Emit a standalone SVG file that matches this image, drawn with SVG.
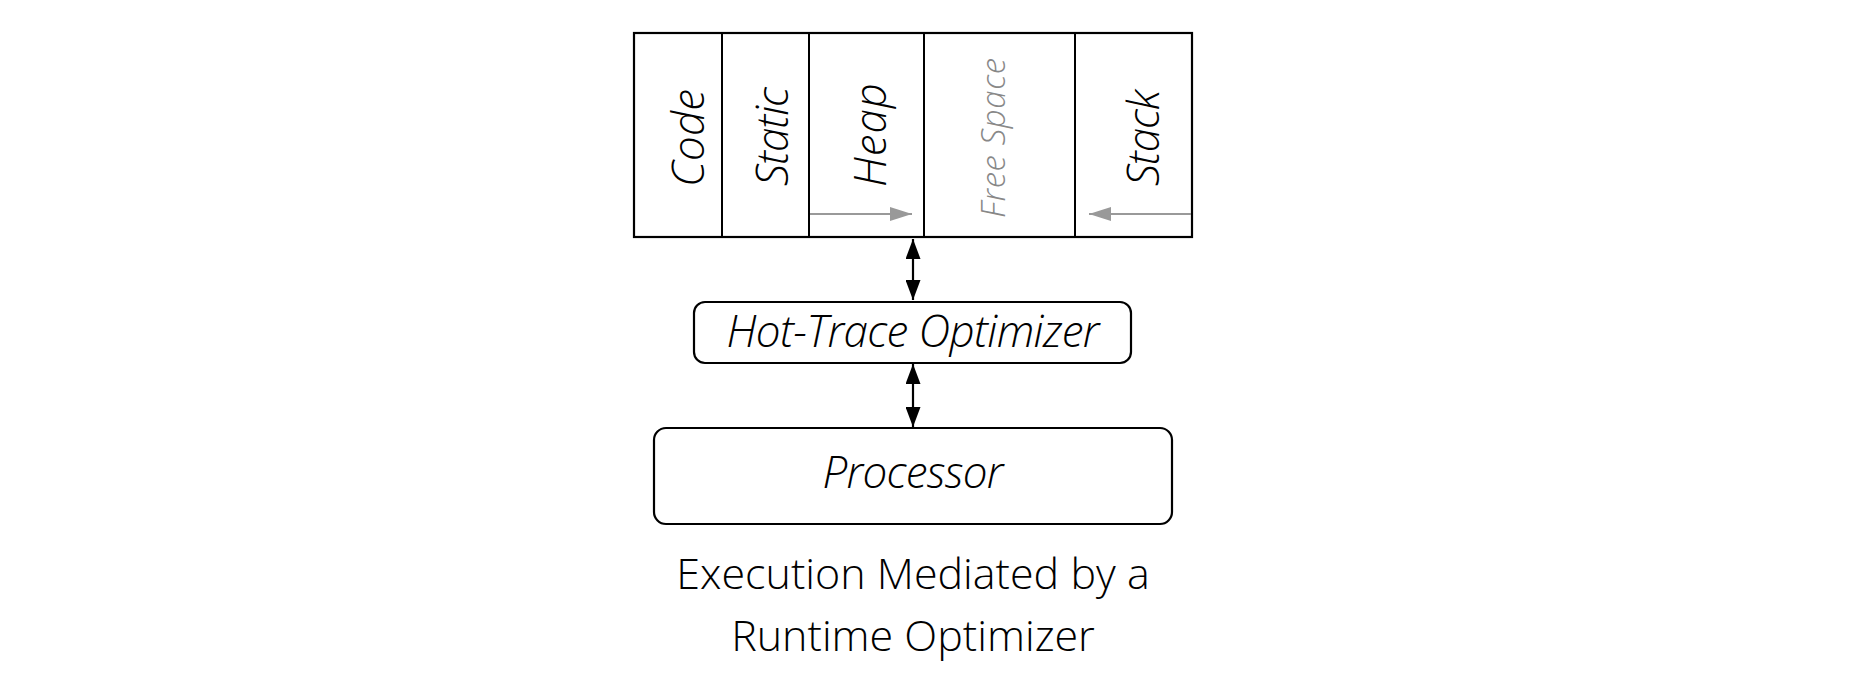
<svg xmlns="http://www.w3.org/2000/svg" width="1852" height="692" viewBox="0 0 1852 692">
<style>
.box{fill:#fff;stroke:#000;stroke-width:2.2}
.div{stroke:#000;stroke-width:2}
.lbl{font-family:"Open Sans","Noto Sans",sans-serif;font-style:italic;font-weight:300;font-size:44px;fill:#000}
.free{font-family:"Open Sans","Noto Sans",sans-serif;font-style:italic;font-weight:300;font-size:33px;fill:#888}
.cap{font-family:"Open Sans","Noto Sans",sans-serif;font-weight:300;font-size:43px;fill:#000;text-anchor:middle}
.conn{stroke:#000;stroke-width:2.2;fill:none}
.gconn{stroke:#999;stroke-width:2.2;fill:none}
</style>
<defs>
<marker id="ab" viewBox="0 0 20 15" refX="20" refY="7.5" markerWidth="20" markerHeight="15" markerUnits="userSpaceOnUse" orient="auto-start-reverse">
<path d="M0,0 L20,7.5 L0,15 Z" fill="#000"/>
</marker>
<marker id="ag" viewBox="0 0 22 14" refX="22" refY="7" markerWidth="22" markerHeight="14" markerUnits="userSpaceOnUse" orient="auto">
<path d="M0,0 L22,7 L0,14 Z" fill="#999"/>
</marker>
</defs>
<rect width="1852" height="692" fill="#fff"/>
<g id="memory">
<rect class="box" x="634" y="33" width="558" height="204"/>
<line class="div" x1="722" y1="33" x2="722" y2="237"/>
<line class="div" x1="809" y1="33" x2="809" y2="237"/>
<line class="div" x1="924" y1="33" x2="924" y2="237"/>
<line class="div" x1="1075" y1="33" x2="1075" y2="237"/>
<text class="lbl" transform="translate(704,187) rotate(-90)" textLength="98">Code</text>
<text class="lbl" transform="translate(788,186) rotate(-90)" textLength="99">Static</text>
<text class="lbl" transform="translate(886,187) rotate(-90)" textLength="104">Heap</text>
<text class="free" transform="translate(1005,218) rotate(-90)" textLength="160">Free Space</text>
<text class="lbl" transform="translate(1159,186) rotate(-90)" textLength="96">Stack</text>
<line class="gconn" x1="810" y1="214" x2="912" y2="214" marker-end="url(#ag)"/>
<line class="gconn" x1="1191" y1="214" x2="1089" y2="214" marker-end="url(#ag)"/>
</g>
<g id="optimizer">
<rect class="box" x="694" y="302" width="437" height="61" rx="11"/>
<text class="lbl" x="913" y="347" text-anchor="middle" textLength="373">Hot-Trace Optimizer</text>
</g>
<g id="processor">
<rect class="box" x="654" y="428" width="518" height="96" rx="12"/>
<text class="lbl" x="913" y="488" text-anchor="middle" textLength="181">Processor</text>
</g>
<g id="caption">
<text class="cap" x="913" y="589">Execution Mediated by a</text>
<text class="cap" x="913" y="651">Runtime Optimizer</text>
</g>
<g id="connectors">
<line class="conn" x1="913" y1="239" x2="913" y2="300" marker-start="url(#ab)" marker-end="url(#ab)"/>
<line class="conn" x1="913" y1="364" x2="913" y2="427" marker-start="url(#ab)" marker-end="url(#ab)"/>
</g>
</svg>
